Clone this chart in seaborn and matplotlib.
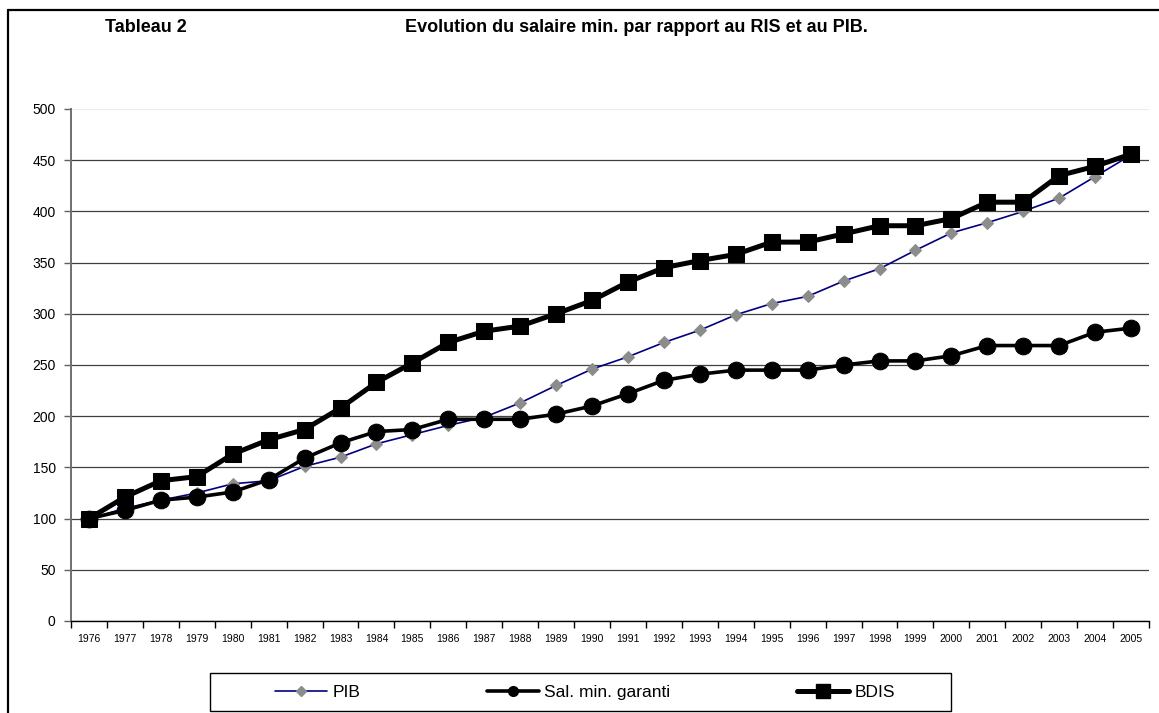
import matplotlib
matplotlib.use('Agg')
import matplotlib.pyplot as plt
import numpy as np
import seaborn as sns
from matplotlib.lines import Line2D
from matplotlib.patches import Rectangle

years = list(range(1976, 2006))
pib = [100, 110, 118, 125, 134, 137, 151, 160, 173, 182, 191, 199, 213, 230, 246,
       258, 272, 284, 299, 310, 317, 332, 344, 362, 379, 389, 400, 413, 434, 455]
sal_min = [100, 108, 118, 121, 126, 138, 159, 174, 185, 187, 197, 197, 197, 202, 210,
           222, 235, 241, 245, 245, 245, 250, 254, 254, 259, 269, 269, 269, 282, 286]
bdis = [100, 121, 137, 141, 163, 177, 187, 208, 233, 252, 272, 283, 288, 300, 313,
        331, 345, 352, 358, 370, 370, 378, 386, 386, 393, 409, 409, 435, 444, 456]
series_names = ['PIB', 'Sal. min. garanti', 'BDIS']
y_ticks = list(range(0, 501, 50))

sns.set_style('white')
plt.rcParams['font.family'] = ['Liberation Sans', 'DejaVu Sans']
plt.rcParams['text.color'] = 'black'
plt.rcParams['xtick.labelcolor'] = 'black'
plt.rcParams['ytick.labelcolor'] = 'black'

W, H = 1159, 713
fig = plt.figure(figsize=(W / 100, H / 100), dpi=100)
ax = fig.add_axes([71 / W, 1 - 621 / H, (1149 - 71) / W, (621 - 109) / H])

# Series
sns.lineplot(x=years, y=pib, ax=ax, color='#000080', lw=1.2, marker='D',
             markersize=6, markerfacecolor='#8c8c8c', markeredgecolor='#8c8c8c',
             zorder=3)
sns.lineplot(x=years, y=sal_min, ax=ax, color='black', lw=2.6, marker='o',
             markersize=12, markerfacecolor='black', markeredgecolor='black',
             zorder=4)
sns.lineplot(x=years, y=bdis, ax=ax, color='black', lw=3.6, marker='s',
             markersize=12, markerfacecolor='black', markeredgecolor='black',
             zorder=5)

# Axes
ax.set_xlim(1975.5, 2005.5)
ax.set_ylim(0, 500)
ax.set_xticks(np.arange(1975.5, 2006, 1.0))
ax.set_xticklabels([])
ax.set_xticks(years, minor=True)
ax.set_xticklabels([str(y) for y in years], minor=True, fontsize=7.5)
ax.tick_params(axis='x', which='major', length=5, width=1, color='black',
               direction='out', bottom=True)
ax.tick_params(axis='x', which='minor', length=0, pad=9)
ax.set_yticks(y_ticks)
ax.set_yticklabels([str(v) for v in y_ticks], fontsize=10)
ax.tick_params(axis='y', length=5, width=1, color='#606060', direction='out',
               left=True, pad=6)

ax.yaxis.grid(True, color='#404040', lw=0.9)
ax.get_ygridlines()[-1].set_color('#ececec')
ax.set_axisbelow(True)

for side in ['top', 'right']:
    ax.spines[side].set_visible(False)
ax.spines['left'].set_color('#707070')
ax.spines['left'].set_linewidth(1.4)
ax.spines['bottom'].set_color('black')
ax.spines['bottom'].set_linewidth(1)

# Legend (box drawn separately, like the Excel one)
fig.add_artist(Rectangle((210 / W, 1 - 711 / H), (951 - 210) / W, 38 / H,
                         transform=fig.transFigure, fill=False,
                         edgecolor='black', lw=1))
handles = [
    Line2D([], [], color='#000080', lw=1.2, marker='D', markersize=5,
           markerfacecolor='#8c8c8c', markeredgecolor='#8c8c8c'),
    Line2D([], [], color='black', lw=2.6, marker='o', markersize=7),
    Line2D([], [], color='black', lw=3.6, marker='s', markersize=10),
]
fig.legend(handles, series_names, loc='center left', ncol=3,
           bbox_to_anchor=(275 / W, 1 - 692 / H), frameon=False,
           fontsize=12.5, handlelength=3.0, handletextpad=0.3,
           columnspacing=7.3, borderpad=0, borderaxespad=0,
           labelcolor='black')

# Titles
fig.text(105 / W, 1 - 27 / H, 'Tableau 2', fontsize=13, fontweight='bold',
         va='center', ha='left', color='black')
fig.text(405 / W, 1 - 27 / H,
         'Evolution du salaire min. par rapport au RIS et au PIB.',
         fontsize=13, fontweight='bold', va='center', ha='left', color='black')

# Outer frame
fig.add_artist(Line2D([8 / W, 1], [1 - 10 / H, 1 - 10 / H], color='black',
                      lw=1.6, transform=fig.transFigure))
fig.add_artist(Line2D([8 / W, 8 / W], [0, 1 - 10 / H], color='black',
                      lw=1.6, transform=fig.transFigure))

fig.savefig('out.png', dpi=100)
